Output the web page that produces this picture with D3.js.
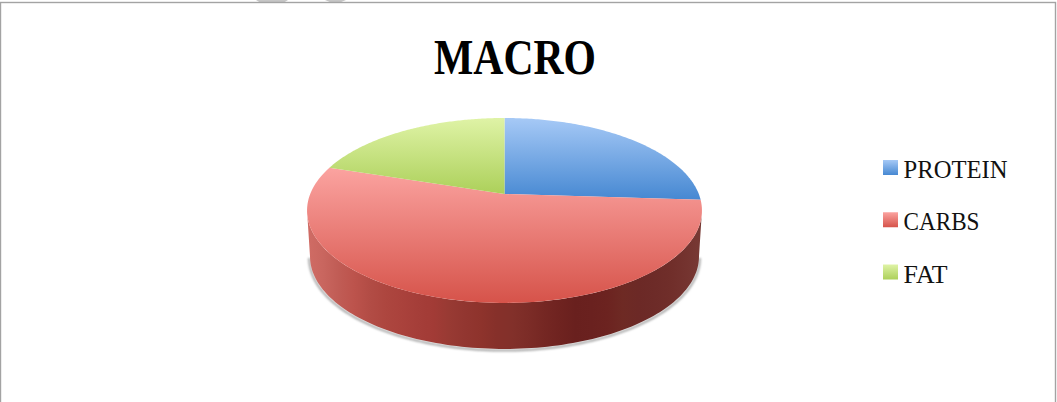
<!DOCTYPE html>
<html><head><meta charset="utf-8">
<script src="https://cdnjs.cloudflare.com/ajax/libs/d3/7.8.5/d3.min.js"></script>
<style>html,body{margin:0;padding:0;background:#fff}svg{display:block}</style></head>
<body><svg id="c" width="1057" height="402"></svg>
<script>
const titleText = "MACRO";
const categories = ["PROTEIN","CARBS","FAT"];
const values = [26,54,20];
const topColors = ["#a6c9f6","#fba3a0","#dff3a6"];
const bottomColors = ["#4688d2","#d6534a","#acd05a"];
const wallStops = ["#d06c65","#c9665f","#c05c55","#bc534c","#b24c45","#ad463f","#aa423c","#a53e39","#a23b36","#983a33","#923630","#8e332c","#86302a","#82302a","#7c2c27","#752723","#6f2320","#69201e","#6a211f","#6c2320","#6e2a24","#6c2926","#6d2b28","#702e2a","#74332f","#783a35"];
const legendTextWidths = [104,76,44];

const svg = d3.select("#c");
const defs = svg.append("defs");
const serif = "'Liberation Serif',serif";

// frame, with the faint cut-off marks above it
svg.append("path").attr("d","M256 0H288L284 2.5H260Z M325 0H346L340 2.5H331Z").attr("fill","#c6c6c6");
svg.append("rect").attr("x",0.5).attr("y",2.5).attr("width",1055).attr("height",402).attr("fill","#fff").attr("stroke","#a3a3a3").attr("stroke-width",1.4);

svg.append("text").attr("x",515).attr("y",73.5).attr("text-anchor","middle")
  .attr("font-family",serif).attr("font-weight",700).attr("font-size",50)
  .attr("textLength",162).attr("lengthAdjust","spacingAndGlyphs").attr("fill","#000").text(titleText);

// perspective projection of the pie disc
const apex={x:504.5,y:194}, persp=0.178, lift=-55, spread=194.3;
const project=(a,drop=0,sh=1)=>{
  const u=Math.sin(a), v=Math.cos(a), w=1+persp*v;
  return [apex.x+sh*spread*u/w, (apex.y+lift*v)/w+drop];
};
const pie=d3.pie().sort(null).startAngle(0).endAngle(2*Math.PI)(values);
const line=d3.line();
const arcPts=(a0,a1,drop,sh)=>d3.range(0,121).map(i=>project(a0+(a1-a0)*i/120,drop,sh));

// soft shadow under the base
defs.append("filter").attr("id","blur").attr("x","-10%").attr("y","-20%").attr("width","120%").attr("height","140%")
  .append("feGaussianBlur").attr("stdDeviation",1.3);
const wallDrop=46, wallShrink=0.985, a0=Math.PI*0.557, a1=Math.PI*1.443;
svg.append("path").attr("d",line(arcPts(a0,a1,wallDrop+1.5,wallShrink*1.004))).attr("fill","none")
  .attr("stroke","#a8a8a8").attr("stroke-width",2.2).attr("filter","url(#blur)");

// wall
const wg=defs.append("linearGradient").attr("id","wall").attr("x1",0).attr("x2",1).attr("y1",0).attr("y2",0);
wallStops.forEach((c,i)=>{
  wg.append("stop").attr("offset",i/(wallStops.length-1)).attr("stop-color",c);
});
const wallTop=arcPts(a0,a1,0,1);
const wallLow=arcPts(a0,a1,wallDrop,wallShrink);
svg.append("path").attr("d",line(wallTop.concat(wallLow.slice().reverse()))+"Z").attr("fill","url(#wall)");

// top slices
pie.forEach((d,i)=>{
  const id="g"+i;
  const g=defs.append("linearGradient").attr("id",id).attr("x1",0).attr("x2",0).attr("y1",0).attr("y2",1);
  g.append("stop").attr("offset",0).attr("stop-color",topColors[i]);
  g.append("stop").attr("offset",1).attr("stop-color",bottomColors[i]);
  const pts=[[apex.x,apex.y]].concat(arcPts(d.startAngle,d.endAngle,0,1));
  svg.append("path").attr("d",line(pts)+"Z").attr("fill","url(#"+id+")");
});

// legend
const rowY=d3.scalePoint().domain(categories).range([160,264.5]);
categories.forEach((c,i)=>{
  const y=rowY(c);
  const id="l"+i;
  const g=defs.append("linearGradient").attr("id",id).attr("x1",0).attr("x2",0).attr("y1",0).attr("y2",1);
  g.append("stop").attr("offset",0).attr("stop-color",topColors[i]);
  g.append("stop").attr("offset",1).attr("stop-color",bottomColors[i]);
  svg.append("rect").attr("x",883).attr("y",y).attr("width",15).attr("height",15).attr("fill","url(#"+id+")");
  svg.append("text").attr("x",903.5).attr("y",y+18).attr("font-family",serif).attr("font-size",26).attr("fill","#111")
    .attr("textLength",legendTextWidths[i]).attr("lengthAdjust","spacingAndGlyphs").text(c);
});
</script></body></html>
